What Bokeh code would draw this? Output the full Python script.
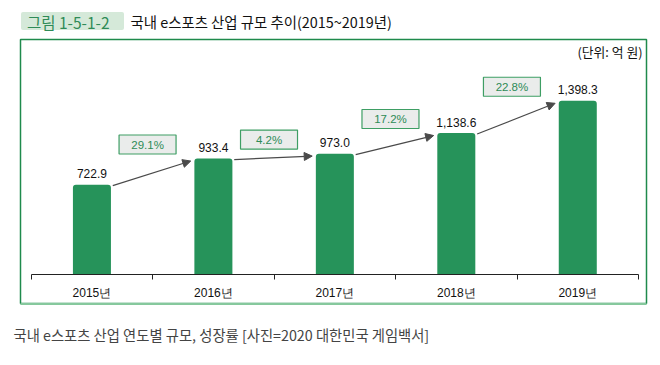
from bokeh.plotting import figure
from bokeh.models import (ColumnDataSource, Range1d, FixedTicker, Arrow, NormalHead)
from bokeh.core.properties import value
from bokeh.embed import file_html
from bokeh.resources import INLINE

# ---- data ----
years = ["2015년", "2016년", "2017년", "2018년", "2019년"]
sizes = [722.9, 933.4, 973.0, 1138.6, 1398.3]
size_labels = ["722.9", "933.4", "973.0", "1,138.6", "1,398.3"]
growth = [29.1, 4.2, 17.2, 22.8]
growth_labels = ["29.1%", "4.2%", "17.2%", "22.8%"]

title_tag = "그림 1-5-1-2"
title_text = "국내 e스포츠 산업 규모 추이(2015~2019년)"
unit_text = "(단위: 억 원)"
caption = "국내 e스포츠 산업 연도별 규모, 성장률 [사진=2020 대한민국 게임백서]"

# ---- layout constants (pixel <-> data mapping) ----
W, H = 652, 365
BOTTOM = 0
F = H - BOTTOM
PXU = 121.46          # pixels per category
X0 = -0.5 - 30.7 / PXU
X1 = X0 + W / PXU
K = 8.05              # data units per pixel (vertical)
BASE = 274            # pixel row of value 0
KR = "Noto Sans CJK KR"
GREEN = "#26935a"


def px(X):
    return X0 + X / PXU


def py(Y):
    return (BASE - Y) * K


p = figure(width=W, height=H, x_range=Range1d(X0, X1), y_range=Range1d(py(F), py(0)),
           y_axis_location=None, output_backend="svg", toolbar_location=None,
           min_border_left=0, min_border_right=0, min_border_top=0,
           min_border_bottom=BOTTOM)
p.grid.visible = False
p.outline_line_color = None
p.background_fill_color = "white"
p.border_fill_color = "white"

xs = list(range(len(years)))
BW = 0.313

# outer green frame
p.quad(left=[px(20)], right=[px(646)], top=[py(39)], bottom=[py(303)],
       fill_color=None, line_color="#1f8a4c", line_width=1.5)
p.segment(x0=[px(20)], x1=[px(646)], y0=[py(303.5)], y1=[py(303.5)],
          line_color="#86c89d", line_width=2)

# title
p.quad(left=[px(20.5)], right=[px(123.5)], top=[py(11.5)], bottom=[py(29.5)],
       fill_color="#d5e9d9", line_color=None, border_radius=2)
p.text(x=[px(26.5)], y=[py(21)], text=[title_tag], text_font=value(KR),
       text_font_size="15.5px", text_color="#2f8b57", text_align="left", text_baseline="middle")
p.text(x=[px(130)], y=[py(21)], text=[title_text], text_font=value(KR),
       text_font_size="14.4px", text_color="#111111", text_align="left", text_baseline="middle")
p.text(x=[px(642)], y=[py(51)], text=[unit_text], text_font=value(KR),
       text_font_size="12.8px", text_color="#111111", text_align="right", text_baseline="middle")
p.text(x=[px(13)], y=[py(334)], text=[caption], text_font=value(KR),
       text_font_size="14.3px", text_color="#444444", text_align="left", text_baseline="middle")

# bars
src = ColumnDataSource(dict(x=xs, top=sizes, lab=size_labels))
p.vbar(x="x", top="top", width=BW, bottom=0, source=src, fill_color=GREEN,
       line_color=None, border_radius=(3, 3, 0, 0))
p.text(x="x", y="top", text="lab", source=src, text_align="center", text_baseline="middle",
       y_offset=-11, text_font=value("Liberation Sans"), text_font_size="12px",
       text_color="#111111")

# arrows between bars
hw = BW / 2
asrc = ColumnDataSource(dict(
    x_start=[i + hw + 0.015 for i in xs[:-1]],
    y_start=[sizes[i] - 8 for i in xs[:-1]],
    x_end=[i + 1 - hw - 0.03 for i in xs[:-1]],
    y_end=[sizes[i + 1] - 20 for i in xs[:-1]],
))
p.add_layout(Arrow(source=asrc, x_start="x_start", y_start="y_start", x_end="x_end",
                   y_end="y_end", line_color="#4a4a4a", line_width=1.2,
                   end=NormalHead(size=8, fill_color="#4a4a4a", line_color="#4a4a4a")))

# growth boxes
gsrc = ColumnDataSource(dict(
    x=[i + 0.458 for i in xs[:-1]],
    y=[max(sizes[i], sizes[i + 1]) + 113 for i in xs[:-1]],
    lab=growth_labels,
))
p.rect(x="x", y="y", width=57, height=19, width_units="screen", height_units="screen",
       source=gsrc, fill_color="#eaeceb", line_color="#3e9e64", line_width=1.2)
p.text(x="x", y="y", text="lab", source=gsrc, text_align="center", text_baseline="middle",
       text_font=value("Liberation Sans"), text_font_size="11.5px", text_color="#2e8b57")

# x axis, drawn at value 0 inside the frame
ax = p.xaxis[0]
ax.fixed_location = 0
ax.ticker = FixedTicker(ticks=xs, minor_ticks=[-0.5, 0.5, 1.5, 2.5, 3.5, 4.5])
ax.major_label_overrides = {i: y for i, y in zip(xs, years)}
ax.bounds = (-0.5, 4.5)
ax.major_tick_in = 0
ax.major_tick_out = 0
ax.minor_tick_in = 0
ax.minor_tick_out = 5
ax.minor_tick_line_color = "#222222"
ax.axis_line_color = "#222222"
ax.axis_line_width = 1
ax.major_label_standoff = 6
ax.major_label_text_font = "Liberation Sans"
ax.major_label_text_font_size = "12px"
ax.major_label_text_color = "#111111"

open("out.html", "w").write(file_html(p, INLINE))
